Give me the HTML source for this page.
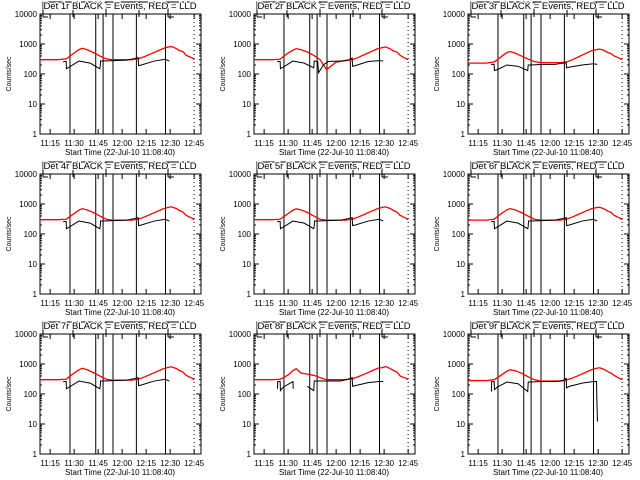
<!DOCTYPE html>
<html><head><meta charset="utf-8"><style>
html,body{margin:0;padding:0;background:#fff;}
svg{display:block;font-family:"Liberation Sans",sans-serif;}
</style></head><body>
<svg id="c" width="640" height="480" viewBox="0 0 640 480"></svg>
<script>
const detLabels=["1r","2r","3r","4r","5r","6r","7r","8r","9r"];
const xTickLabels=["11:15","11:30","11:45","12:00","12:15","12:30","12:45"];
const xTickTimes=[15,30,45,60,75,90,105];
const yTickValues=[1,10,100,1000,10000];
const yTickLabels=["1","10","100","1000","10000"];
const markerTimes=[27.4,43.5,48.1,54.3,68.9,87.1];
const dottedTime=105;
const redTimes=[8.7,14,20,25,27,30,33,35,38,42,46,50,54,60,66,70,74,78,82,86,89,91,94,96,98,100,102,104,105];
const redP1=[300,300,300,320,380,500,650,720,650,520,400,320,300,300,300,320,380,470,580,720,800,820,700,600,560,420,380,340,300];
const redP2=[300,300,300,310,380,500,620,700,650,540,420,300,140,250,280,300,360,450,560,700,760,800,680,580,540,420,360,320,300];
const redP3=[230,230,230,250,300,400,520,560,500,400,320,260,240,240,240,250,300,380,480,600,650,680,600,520,480,400,360,320,300];
const redP4=[300,300,300,310,370,480,620,700,640,520,400,310,290,290,290,310,370,460,570,700,780,800,700,600,540,420,370,330,300];
const redP5=[300,300,300,310,370,480,620,690,640,520,400,310,290,290,290,310,370,460,570,700,780,800,700,600,540,420,370,330,300];
const redP6=[290,290,290,310,380,500,640,700,640,520,400,310,290,290,290,310,370,460,570,700,760,780,680,580,530,420,370,330,300];
const redP7=[300,300,300,310,380,500,640,720,650,520,400,310,290,290,290,310,370,460,570,700,780,800,700,600,540,420,370,330,300];
const redP8=[300,300,300,310,350,430,600,700,500,460,420,350,300,300,300,320,380,470,580,720,760,820,700,600,540,400,360,330,300];
const redP9=[280,280,280,300,350,450,580,640,600,500,380,300,270,270,270,290,340,420,520,650,720,750,650,560,500,420,360,320,300];
const blackT1=[23.3,23.5,25,25.2,27,33,40,46,46.3,46.5,48,55,63,68,70,70.3,72,80,87,89.5];
const blackV1=[250,260,260,150,170,270,230,150,180,270,270,280,290,330,350,190,200,270,310,270];
const blackT2=[23.3,23.5,25,25.2,27,33,40,46,46.3,48.5,49,52,55,63,68,70,70.3,72,80,87,89.5];
const blackV2=[250,260,260,150,170,270,230,160,270,260,110,200,260,270,300,340,180,190,260,280,270];
const blackT3=[23.3,23.5,25,25.2,27,33,40,46,46.3,48,55,63,68,70,70.3,72,80,87,89.5];
const blackV3=[200,210,210,130,140,200,180,130,200,200,210,210,230,240,160,170,200,220,210];
const blackT8=[23.3,23.5,25,25.2,27,33,33.2,null,42,46,46.3,48,55,63,68,70,70.3,72,80,87,89.5];
const blackV8=[150,260,260,130,170,260,150,null,180,130,270,270,270,270,320,350,180,190,240,260,260];
const blackT9=[23.3,23.5,25,25.2,27,33,40,46,46.3,48,55,63,68,70,70.3,72,80,87,89,89.2,89.6];
const blackV9=[120,260,260,140,170,250,220,120,250,250,260,260,280,330,160,180,230,260,260,60,12];
const redSeries=[redP1,redP2,redP3,redP4,redP5,redP6,redP7,redP8,redP9];
const blackTimes=[blackT1,blackT2,blackT3,blackT1,blackT1,blackT1,blackT1,blackT8,blackT9];
const blackVals=[blackV1,blackV2,blackV3,blackV1,blackV1,blackV1,blackV1,blackV8,blackV9];

const svg=document.getElementById('c');
const NS='http://www.w3.org/2000/svg';
function mk(tag,attrs,parent){const e=document.createElementNS(NS,tag);for(const k in attrs)e.setAttribute(k,attrs[k]);(parent||svg).appendChild(e);return e;}
for(let p=0;p<9;p++){
  const ox=(p%3)*214, oy=Math.floor(p/3)*160;
  const X=t=>ox+40+(t-8.667)*1.6;
  const Y=v=>oy+134-30*Math.log10(v);
  const g=mk('g',{});
  
  
  const box=mk('rect',{x:ox+40,y:oy+14,width:161,height:120,fill:'none',stroke:'#000','stroke-width':1},g);
  
  
  for(let i=0;i<yTickValues.length;i++){
    const y=Y(yTickValues[i]);
    mk('line',{x1:ox+40,x2:ox+45,y1:y,y2:y,stroke:'#000'},g);
    mk('line',{x1:ox+196,x2:ox+201,y1:y,y2:y,stroke:'#000'},g);
    const tl=mk('text',{x:ox+37,y:y+3,'font-size':8,'text-anchor':'end'},g);
    tl.textContent=yTickLabels[i];
    
    
    if(i<yTickValues.length-1){for(let m=2;m<10;m++){const ym=Y(yTickValues[i]*m);
      mk('line',{x1:ox+40,x2:ox+42,y1:ym,y2:ym,stroke:'#000'},g);
      mk('line',{x1:ox+199,x2:ox+201,y1:ym,y2:ym,stroke:'#000'},g);}}
  }
  for(let i=0;i<xTickTimes.length;i++){
    const x=X(xTickTimes[i]);
    mk('line',{x1:x,x2:x,y1:oy+134,y2:oy+129,stroke:'#000'},g);
    mk('line',{x1:x,x2:x,y1:oy+14,y2:oy+19,stroke:'#000'},g);
    const tl=mk('text',{x:x,y:oy+146,'font-size':8,'text-anchor':'middle'},g);
    tl.textContent=xTickLabels[i];
    
    
  }
  const xt=mk('text',{x:ox+120,y:oy+155,'font-size':8,'text-anchor':'middle'},g);
  xt.textContent='Start Time (22-Jul-10 11:08:40)';
  
  
  const yt=mk('text',{x:0,y:0,'font-size':7,'text-anchor':'middle',transform:`translate(${ox+11},${oy+74}) rotate(-90)`},g);
  yt.textContent='Counts/sec';
  
  
  mk('polyline',{points:`${ox+43},${oy+17} ${ox+43},${oy+2} ${ox+195},${oy+2}`,fill:'none',stroke:'#000'},g);
  mk('line',{x1:ox+43,x2:ox+48,y1:oy+17,y2:oy+17,stroke:'#000'},g);
  [73,106,139,168].forEach(xx=>mk('line',{x1:ox+xx,x2:ox+xx,y1:oy+2,y2:oy+17,stroke:'#000'},g));
  mk('line',{x1:ox+168,x2:ox+174,y1:oy+17,y2:oy+17,stroke:'#000'},g);
  const tt=mk('text',{x:ox+120,y:oy+9,'font-size':9.5,'text-anchor':'middle'},g);
  tt.setAttribute('style','paint-order:stroke;stroke:#fff;stroke-width:2px');
  tt.textContent='Det '+detLabels[p]+' BLACK = Events, RED = LLD';
  
  
  markerTimes.forEach(t=>{const l=mk('line',{x1:X(t),x2:X(t),y1:oy+14,y2:oy+134,stroke:'#000'},g);
    
    });
  const dl=mk('line',{x1:X(dottedTime),x2:X(dottedTime),y1:oy+14,y2:oy+134,stroke:'#000','stroke-dasharray':'1,3'},g);
  
  
  const rs=redSeries[p];
  const rp=mk('polyline',{points:redTimes.map((t,i)=>X(t)+','+Y(rs[i])).join(' '),fill:'none',stroke:'#f00','stroke-width':1.3},g);
  
  
  const bt=blackTimes[p],bv=blackVals[p];
  let d='',pen=false;
  for(let i=0;i<bt.length;i++){
    if(bt[i]===null||bv[i]===null){pen=false;continue;}
    d+=(pen?'L':'M')+X(bt[i])+' '+Y(bv[i])+' ';pen=true;
  }
  const bp=mk('path',{d:d,fill:'none',stroke:'#000','stroke-width':1},g);
  
  
}
</script>
</body></html>
